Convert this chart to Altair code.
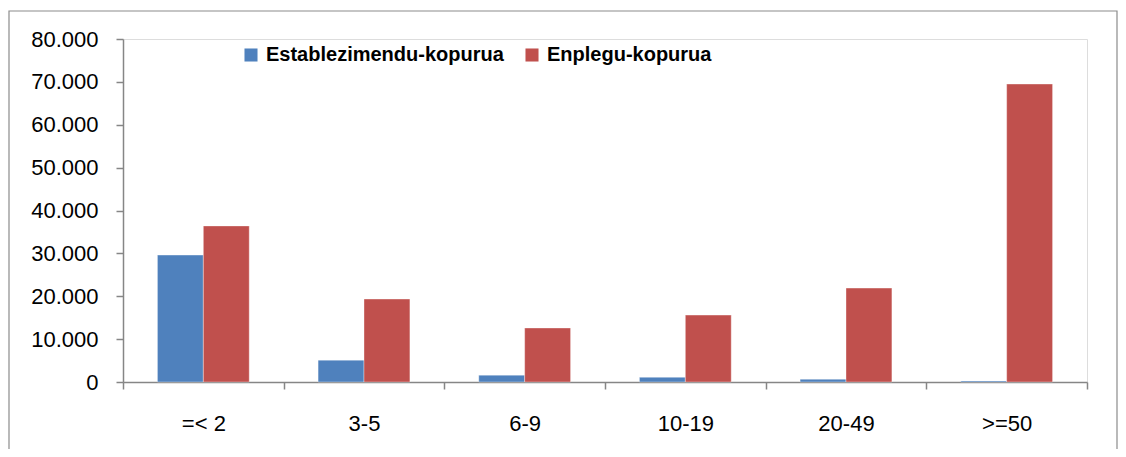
import altair as alt
import pandas as pd

categories = ["=< 2", "3-5", "6-9", "10-19", "20-49", ">=50"]
series_names = ["Establezimendu-kopurua", "Enplegu-kopurua"]
establezimendu = [29600, 5100, 1600, 1100, 650, 250]
enplegu = [36400, 19350, 12600, 15600, 21900, 69500]
y_ticks = [0, 10000, 20000, 30000, 40000, 50000, 60000, 70000, 80000]
colors = ["#4F81BD", "#C0504D"]

rows = []
for c, a, b in zip(categories, establezimendu, enplegu):
    rows.append({"cat": c, "series": series_names[0], "value": a})
    rows.append({"cat": c, "series": series_names[1], "value": b})
df = pd.DataFrame(rows)

FONT = "Liberation Sans"

bars = alt.Chart(df).mark_bar(stroke="white", strokeWidth=0.6, strokeOpacity=0.6).encode(
    x=alt.X("cat:N", sort=categories, title=None,
            scale=alt.Scale(paddingInner=0, paddingOuter=0),
            axis=alt.Axis(labelAngle=0, labelFontSize=22, labelFont=FONT, labelColor="#000000",
                          labelPadding=24, tickBand="extent", tickSize=7, tickColor="#868686",
                          domainColor="#868686", domainWidth=1.5, tickWidth=1.5, grid=False)),
    xOffset=alt.XOffset("series:N", sort=series_names,
                        scale=alt.Scale(paddingInner=0, paddingOuter=0.75)),
    y=alt.Y("value:Q", title=None,
            scale=alt.Scale(domain=[0, 80000], nice=False),
            axis=alt.Axis(values=y_ticks, labelExpr="replace(format(datum.value, ','), ',', '.')",
                          labelFontSize=22, labelFont=FONT, labelColor="#000000", labelPadding=18,
                          tickSize=7, tickColor="#868686", domainColor="#868686",
                          domainWidth=1.5, tickWidth=1.5, grid=False)),
    color=alt.Color("series:N", sort=series_names,
                    scale=alt.Scale(domain=series_names, range=colors),
                    legend=alt.Legend(title=None, orient="none", direction="horizontal",
                                      legendX=118, legendY=6, symbolType="square", symbolSize=170,
                                      symbolStrokeWidth=0, labelFont=FONT, labelFontSize=20,
                                      labelFontWeight="bold", labelColor="#000000", labelLimit=400,
                                      columnPadding=18, labelOffset=5)),
)

frame_df = pd.DataFrame({"f": [1]})
frame = alt.Chart(frame_df).mark_rect(fill=None, stroke="#8c8c8c", strokeWidth=1.2).encode(
    x=alt.value(-114), x2=alt.value(994), y=alt.value(-28), y2=alt.value(430)
)

chart = alt.layer(frame, bars).properties(
    width=964, height=343,
    autosize=alt.AutoSizeParams(type="none"),
    padding={"left": 115, "top": 31, "right": 31, "bottom": 67},
).configure_view(stroke=None).configure(background="white")

chart.save("out.html", embed_options={"renderer": "svg", "actions": False})
